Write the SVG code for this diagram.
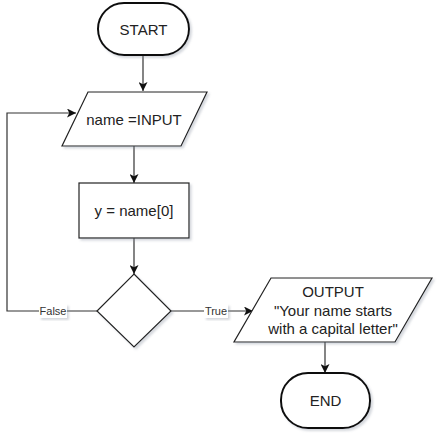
<svg xmlns="http://www.w3.org/2000/svg" width="442" height="439" viewBox="0 0 442 439">
<defs>
<filter id="sh" x="-10%" y="-10%" width="130%" height="130%">
<feDropShadow dx="2" dy="2" stdDeviation="1.2" flood-color="#8890a0" flood-opacity="0.35"/>
</filter>
<marker id="arr" viewBox="0 0 10 10" refX="10" refY="5" markerWidth="9" markerHeight="9" markerUnits="userSpaceOnUse" orient="auto">
<path d="M0 0 L10 5 L0 10 L2.5 5 Z" fill="#111"/>
</marker>
</defs>
<style>
.shape{fill:#fff;stroke:#222;stroke-width:1.2;filter:url(#sh)}
.term{fill:#fff;stroke:#111;stroke-width:2;filter:url(#sh)}
.t{font-family:"Liberation Sans",Arial,sans-serif;font-size:15px;fill:#222;text-anchor:middle;dominant-baseline:central}
.lbl{font-family:"Liberation Sans",Arial,sans-serif;font-size:11px;fill:#333;text-anchor:middle;dominant-baseline:central}
.c{fill:none;stroke:#333;stroke-width:1.2}
.lb{fill:#fff;filter:url(#sh)}
</style>
<g id="connectors">
<path class="c" d="M143 55 V91" marker-end="url(#arr)"/>
<path class="c" d="M134 146 V183" marker-end="url(#arr)"/>
<path class="c" d="M134 238 V274" marker-end="url(#arr)"/>
<path class="c" d="M171 311 H253" marker-end="url(#arr)"/>
<path class="c" d="M325 342 V373" marker-end="url(#arr)"/>
<path class="c" d="M97 311 H7 V113 H76" marker-end="url(#arr)"/>
<g id="label-false">
<rect class="lb" x="39" y="304" width="28" height="14"/>
<text class="lbl" x="53" y="311">False</text>
</g>
<g id="label-true">
<rect class="lb" x="204" y="304" width="24" height="14"/>
<text class="lbl" x="216" y="311">True</text>
</g>
</g>
<g id="start">
<rect class="term" x="98" y="3" width="91" height="52" rx="26" ry="26"/>
<text class="t" x="143.5" y="29">START</text>
</g>
<g id="input">
<polygon class="shape" points="88,92 207,92 181,146 62,146"/>
<text class="t" x="134" y="119">name =INPUT</text>
</g>
<g id="assign">
<rect class="shape" x="79" y="183" width="110" height="55"/>
<text class="t" x="134" y="210">y = name[0]</text>
</g>
<g id="decision">
<polygon class="shape" points="134,274 171,311 134,347 97,311"/>
</g>
<g id="output">
<polygon class="shape" points="271,278 432,278 395,342 234,342"/>
<text class="t" x="333" y="291">OUTPUT</text>
<text class="t" x="333" y="310">"Your name starts</text>
<text class="t" x="333" y="328">with a capital letter"</text>
</g>
<g id="end">
<rect class="term" x="281" y="373" width="89" height="55" rx="27" ry="27"/>
<text class="t" x="325.5" y="400">END</text>
</g>
</svg>
